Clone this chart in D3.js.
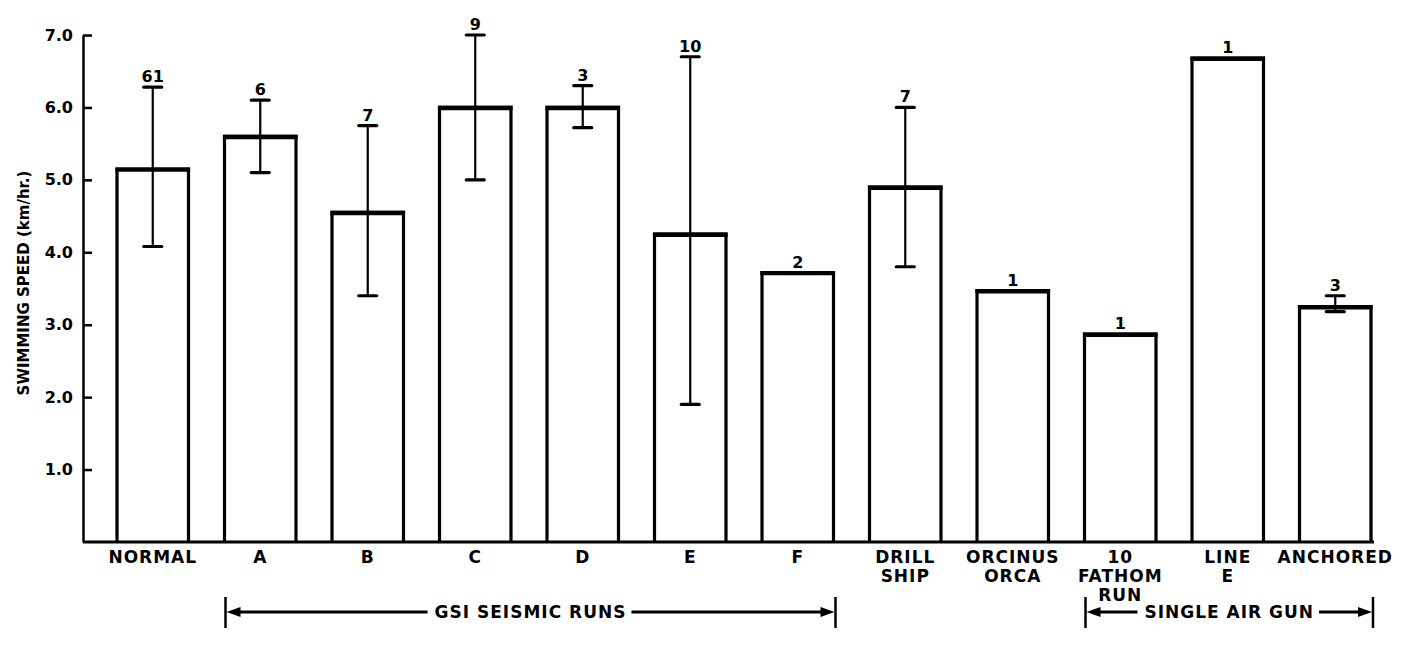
<!DOCTYPE html>
<html>
<head>
<meta charset="utf-8">
<script src="https://cdn.jsdelivr.net/npm/d3@7"></script>
<style>
  html, body { margin: 0; padding: 0; background: #fff; }
  svg { display: block; }
  text { font-family: "DejaVu Sans", "Liberation Sans", Arial, sans-serif; font-weight: bold; fill: #000; }
</style>
</head>
<body>
<svg id="chart" width="1413" height="657"></svg>
<script>
// ---- data ----
const categories = ["NORMAL", "A", "B", "C", "D", "E", "F", "DRILL SHIP", "ORCINUS ORCA", "10 FATHOM RUN", "LINE E", "ANCHORED"];
const categoryLines = [["NORMAL"], ["A"], ["B"], ["C"], ["D"], ["E"], ["F"], ["DRILL", "SHIP"], ["ORCINUS", "ORCA"], ["10", "FATHOM", "RUN"], ["LINE", "E"], ["ANCHORED"]];
const meanSpeed = [5.15, 5.6, 4.55, 6.0, 6.0, 4.25, 3.72, 4.9, 3.47, 2.87, 6.68, 3.25];
const errHigh = [6.28, 6.1, 5.75, 7.0, 6.3, 6.7, null, 6.0, null, null, null, 3.4];
const errLow = [4.08, 5.1, 3.4, 5.0, 5.72, 1.9, null, 3.8, null, null, null, 3.18];
const sampleCounts = [61, 6, 7, 9, 3, 10, 2, 7, 1, 1, 1, 3];
const yTicks = [1, 2, 3, 4, 5, 6, 7];
const yTitle = "SWIMMING SPEED (km/hr.)";
const groups = [
  { label: "GSI SEISMIC RUNS", from: "A", to: "F" },
  { label: "SINGLE AIR GUN", from: "10 FATHOM RUN", to: "ANCHORED" }
];

// ---- layout ----
const svg = d3.select("#chart");
const x = d3.scaleBand().domain(categories).range([99, 1389]).paddingInner(0.335).paddingOuter(0.1675);
const y = d3.scaleLinear().domain([0, 7]).range([542, 35]);
const axisX = 83;

// y axis
const yAxis = d3.axisLeft(y).tickValues(yTicks).tickFormat(d3.format(".1f"))
  .tickSize(-9).tickSizeOuter(0).tickPadding(10);
const gy = svg.append("g").attr("transform", `translate(${axisX},0)`).call(yAxis);
gy.select(".domain").attr("stroke", "#000").attr("stroke-width", 2.5);
gy.selectAll(".tick line").attr("stroke", "#000").attr("stroke-width", 2.5);
gy.selectAll(".tick text").style("font-size", "16px").attr("fill", "#000")
  .style("font-family", "'DejaVu Sans', sans-serif").style("font-weight", "bold");

// y title
svg.append("text")
  .attr("transform", "translate(29,283) rotate(-90)")
  .attr("text-anchor", "middle")
  .style("font-size", "15px")
  .text(yTitle);

// baseline
svg.append("line")
  .attr("x1", axisX).attr("x2", x(categories[categories.length - 1]) + x.bandwidth() + 3)
  .attr("y1", y(0)).attr("y2", y(0))
  .attr("stroke", "#000").attr("stroke-width", 3);

// bars (open rectangles): sides, then a heavier top edge
const idx = d3.range(categories.length);
const bars = svg.append("g");
bars.selectAll("path.bar").data(idx).join("path")
  .attr("class", "bar")
  .attr("d", i => {
    const x0 = x(categories[i]), x1 = x0 + x.bandwidth(), yt = y(meanSpeed[i]), yb = y(0);
    return `M${x0},${yb}V${yt}H${x1}V${yb}`;
  })
  .attr("fill", "none").attr("stroke", "#000").attr("stroke-width", 3.2)
  .attr("stroke-linejoin", "miter");
bars.selectAll("line.top").data(idx).join("line")
  .attr("class", "top")
  .attr("x1", i => x(categories[i]) - 1.6).attr("x2", i => x(categories[i]) + x.bandwidth() + 1.6)
  .attr("y1", i => y(meanSpeed[i]) + 0.6).attr("y2", i => y(meanSpeed[i]) + 0.6)
  .attr("stroke", "#000").attr("stroke-width", 4.4);

// error bars
const eg = svg.append("g");
idx.filter(i => errHigh[i] != null).forEach(i => {
  const cx = x(categories[i]) + x.bandwidth() / 2;
  eg.append("line").attr("x1", cx).attr("x2", cx).attr("y1", y(errHigh[i])).attr("y2", y(errLow[i]))
    .attr("stroke", "#000").attr("stroke-width", 2.2);
  [errHigh[i], errLow[i]].forEach(v => {
    eg.append("line").attr("x1", cx - 9).attr("x2", cx + 9).attr("y1", y(v)).attr("y2", y(v))
      .attr("stroke", "#000").attr("stroke-width", 3.2).attr("stroke-linecap", "round");
  });
});

// sample counts
svg.append("g").selectAll("text").data(idx).join("text")
  .attr("x", i => x(categories[i]) + x.bandwidth() / 2)
  .attr("y", i => y(errHigh[i] != null ? errHigh[i] : meanSpeed[i]) - 5)
  .attr("text-anchor", "middle")
  .style("font-size", "16px")
  .text(i => sampleCounts[i]);

// x axis labels
const xAxis = d3.axisBottom(x).tickSize(0).tickFormat("");
const gx = svg.append("g").attr("transform", `translate(0,${y(0)})`).call(xAxis);
gx.select(".domain").remove();
gx.selectAll(".tick").each(function(d) {
  const i = categories.indexOf(d);
  const t = d3.select(this).append("text").attr("text-anchor", "middle")
    .style("font-size", "17px").style("letter-spacing", "1px");
  categoryLines[i].forEach((ln, k) => {
    t.append("tspan").attr("x", 0).attr("y", 21 + k * 19).text(ln);
  });
});

// group brackets
const by = 612;
groups.forEach(g => {
  const xl = x(g.from) + 1, xr = x(g.to) + x.bandwidth() + 2;
  const cx = (xl + xr) / 2;
  const gg = svg.append("g");
  const lbl = gg.append("text").attr("x", cx).attr("y", by + 6).attr("text-anchor", "middle")
    .style("font-size", "17px").style("letter-spacing", "1px").text(g.label);
  const w = lbl.node().getComputedTextLength();
  const tl = cx - w / 2 - 7, tr = cx + w / 2 + 5;
  [xl, xr].forEach(xx => gg.append("line").attr("x1", xx).attr("x2", xx).attr("y1", by - 15).attr("y2", by + 16)
    .attr("stroke", "#000").attr("stroke-width", 2.5));
  gg.append("line").attr("x1", xl + 12).attr("x2", tl).attr("y1", by).attr("y2", by).attr("stroke", "#000").attr("stroke-width", 2.8);
  gg.append("line").attr("x1", tr).attr("x2", xr - 12).attr("y1", by).attr("y2", by).attr("stroke", "#000").attr("stroke-width", 2.8);
  gg.append("path").attr("d", `M${xl + 1},${by}L${xl + 15},${by - 5}L${xl + 15},${by + 5}Z`).attr("fill", "#000");
  gg.append("path").attr("d", `M${xr - 1},${by}L${xr - 15},${by - 5}L${xr - 15},${by + 5}Z`).attr("fill", "#000");
});
</script>
</body>
</html>
